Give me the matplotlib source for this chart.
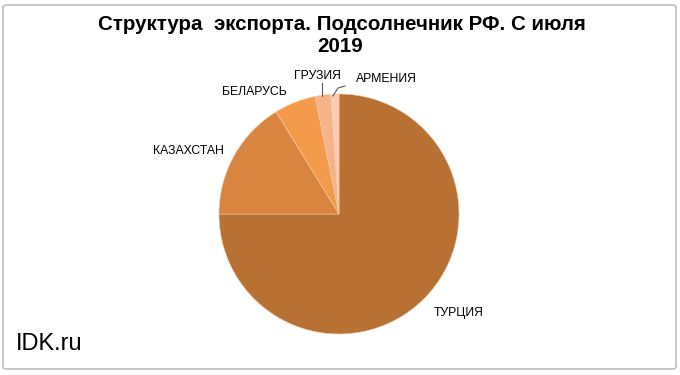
import matplotlib
matplotlib.use("Agg")
import matplotlib.pyplot as plt
from matplotlib.patches import FancyBboxPatch

countries = ["ТУРЦИЯ", "КАЗАХСТАН", "БЕЛАРУСЬ", "ГРУЗИЯ", "АРМЕНИЯ"]
shares = [75.0, 16.2, 5.6, 2.1, 1.1]
colors = ["#B97133", "#DA853F", "#F39A4B", "#F6B38A", "#F9CDB5"]

plt.rcParams["font.family"] = ["Liberation Sans", "DejaVu Sans"]

W, H = 680, 375
fig = plt.figure(figsize=(W / 100, H / 100), dpi=100)
ax = fig.add_axes([0, 0, 1, 1])

fig.patches.append(FancyBboxPatch((3 / W, 6 / H), 673 / W, 364 / H,
                                  boxstyle="round,pad=0,rounding_size=0.006",
                                  transform=fig.transFigure, facecolor="white",
                                  edgecolor="#BFBFBF", linewidth=1.2, zorder=-1))

cx, cy, r = 339, H - 214, 120
ax.pie(shares, colors=colors, startangle=90, counterclock=False,
       center=(cx, cy), radius=r, frame=True,
       wedgeprops=dict(edgecolor="#F4C9A8", linewidth=0.4))
ax.set_xlim(0, W)
ax.set_ylim(0, H)
ax.set_aspect("equal")
ax.axis("off")

# labels (pixel positions, y measured from top)
label_pos = [(459, 313), (188, 151), (254, 92), (317, 76), (386, 79)]
for name, (x, y) in zip(countries, label_pos):
    ax.text(x, H - y, name, fontsize=8.8, ha="center", va="center")

# leader lines for small slices
ax.plot([322, 322], [H - 96, H - 83], color="#595959", lw=0.8)
ax.plot([333, 338, 345], [H - 96, H - 88, H - 86], color="#595959", lw=0.8)

ax.text(W / 2 + 2, H - 25, "Структура  экспорта. Подсолнечник РФ. С июля",
        fontsize=14.8, fontweight="bold", ha="center", va="center")
ax.text(W / 2, H - 46, "2019", fontsize=14.8, fontweight="bold",
        ha="center", va="center")
ax.text(16, H - 344, "IDK.ru", fontsize=17, ha="left", va="center")

fig.savefig("out.png", dpi=100)
